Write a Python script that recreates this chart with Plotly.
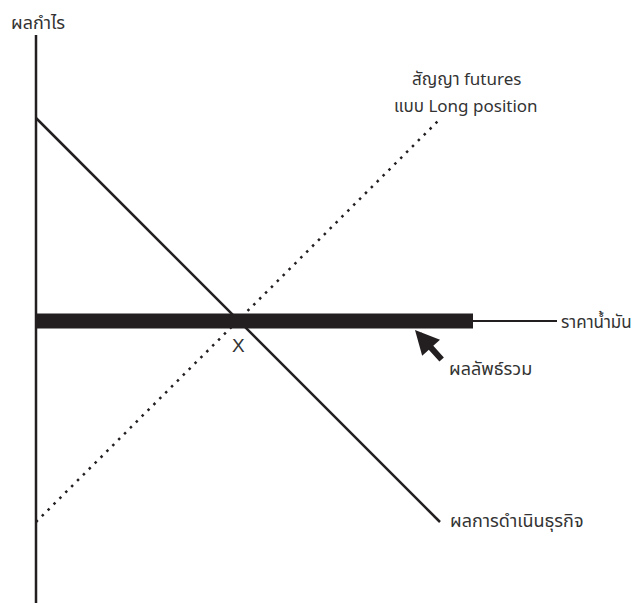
import plotly.graph_objects as go

# data units: one unit per pixel, origin where the two axes meet
axis_x = [0, 0]
axis_y = [-282, 286]
price_x = [0, 521]
price_y = [0, 0]

business_x = [0, 404]
business_y = [203, -201]

futures_x = [0, 404]
futures_y = [-201, 202]

total_x = [0, 437]
total_y = [0, 0]

INK = '#231f20'
FONT = 'Noto Sans, Noto Sans Thai, sans-serif'


def build():
    fig = go.Figure()

    fig.add_trace(go.Scatter(x=axis_x, y=axis_y, mode='lines',
                             line=dict(color=INK, width=2.5)))
    fig.add_trace(go.Scatter(x=price_x, y=price_y, mode='lines',
                             line=dict(color=INK, width=2)))
    fig.add_trace(go.Scatter(x=business_x, y=business_y, mode='lines',
                             line=dict(color=INK, width=2.5)))
    fig.add_trace(go.Scatter(x=futures_x, y=futures_y, mode='lines',
                             line=dict(color=INK, width=2.5, dash='2.5px,5.8px')))
    fig.add_trace(go.Scatter(x=total_x, y=total_y, mode='lines',
                             line=dict(color=INK, width=15)))

    labels = [
        ('ผลกำไร', -27.5, 299, 'left', 18),
        ('สัญญา futures', 430, 243, 'center', 17),
        ('แบบ Long position', 430, 216, 'center', 17),
        ('ราคาน้ำมัน', 523, 0, 'left', 17),
        ('ผลลัพธ์รวม', 411, -47, 'left', 18),
        ('ผลการดำเนินธุรกิจ', 412, -199, 'left', 18),
    ]
    for text, x, y, anchor, size in labels:
        fig.add_annotation(x=x, y=y, text=text, showarrow=False, xanchor=anchor,
                           yanchor='middle', font=dict(family=FONT, size=size, color='#333333'))

    fig.add_annotation(x=202, y=-24, text='X', showarrow=False,
                       font=dict(family='Liberation Sans', size=19, color='#333333'))

    # arrow pointing at the combined result
    fig.add_annotation(x=379, y=-9, ax=28, ay=31, text='', showarrow=True,
                       arrowhead=2, arrowsize=0.8, arrowwidth=6, arrowcolor=INK)

    # the page body adds an 8px margin, so the ranges are shifted to match
    fig.update_layout(width=644, height=603, margin=dict(l=0, r=0, t=0, b=0),
                      showlegend=False, plot_bgcolor='white', paper_bgcolor='white')
    fig.update_xaxes(range=[-28, 616], visible=False, fixedrange=True)
    fig.update_yaxes(range=[-290, 313], visible=False, fixedrange=True)
    return fig


if __name__ == '__main__':
    build().write_html('out.html')
